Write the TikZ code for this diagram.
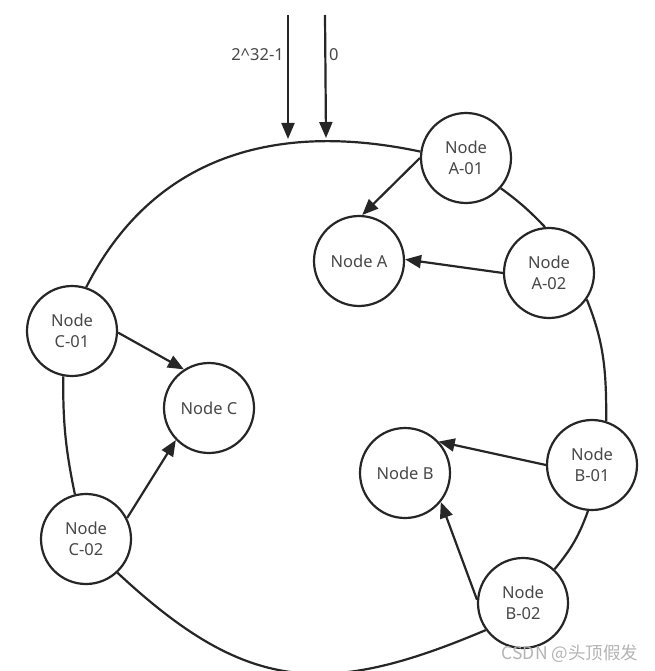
\documentclass[tikz,border=0pt]{standalone}
\usepackage{fontspec}
\setmainfont{Noto Sans}
\newfontfamily\cjk{Noto Sans CJK SC}
\usetikzlibrary{arrows.meta}
\definecolor{ink}{HTML}{262626}
\definecolor{txt}{HTML}{484848}
\definecolor{wm}{HTML}{B4B4B4}
\tikzset{
  hnode/.style={circle,draw=ink,line width=2.2pt,minimum size=90pt,inner sep=0pt,
    fill=white,text=txt,align=center,font=\fontsize{16.5}{21}\selectfont},
  ring/.style={draw=ink,line width=2.2pt},
  arr/.style={draw=ink,line width=2.2pt,-{Triangle[length=16pt,width=13pt]}},
  lbl/.style={text=txt,font=\fontsize{16.5}{19}\selectfont,inner sep=0pt}
}
\begin{document}
\begin{tikzpicture}[x=1pt,y=-1pt]
\useasboundingbox[fill=white] (0,0) rectangle (654,671);
% nodes
\node[hnode] (a01) at (466,158) {Node\\A-01};
\node[hnode] (nA)  at (359,261) {Node A};
\node[hnode] (a02) at (549,273) {Node\\A-02};
\node[hnode] (c01) at (72,331)  {Node\\C-01};
\node[hnode] (nC)  at (209,408) {Node C};
\node[hnode] (c02) at (86,539)  {Node\\C-02};
\node[hnode] (nB)  at (405,473) {Node B};
\node[hnode] (b01) at (592,465) {Node\\B-01};
\node[hnode] (b02) at (523,603) {Node\\B-02};
% ring segments
\draw[ring] (c01.72) to[out=63,in=168,looseness=1.05] (a01.172);
\draw[ring] (a01.-41) to[bend left=5] (a02.95);
\draw[ring] (a02.-35) to[out=-68,in=90] (b01.72);
\draw[ring] (b01.-95) to[bend left=10] (b02.47);
\draw[ring] (b02.-144) to[out=-157,in=-43,looseness=1.2] (c02.-47);
\draw[ring] (c02.104) to[bend left=6] (c01.-101);
% top pointers
\coordinate (t1s) at (288,15);
\coordinate (t1e) at (288,139);
\coordinate (t2s) at (325,15);
\coordinate (t2e) at (326,138);
\draw[arr] (t1s) -- (t1e);
\draw[arr] (t2s) -- (t2e);
\node[lbl,anchor=east] (l1) at (284,55) {2\textasciicircum 32-1};
\node[lbl,anchor=west] (l2) at (329,55) {0};
% arrows to physical nodes
\draw[arr] (a01.180) -- (nA.86);
\draw[arr] (a02.180) -- (nA.2);
\draw[arr] (c01.-2) -- (nC.123);
\draw[arr] (c02.27) -- (nC.-136);
\draw[arr] (b01.180) -- (nB.43);
\draw[arr] (b02.176) -- (nB.-39);
% watermark
\node[text=wm,font=\cjk\fontsize{17.5}{20}\selectfont,inner sep=0pt] (wmk) at (570,654) {CSDN @头顶假发};
\end{tikzpicture}
\end{document}
